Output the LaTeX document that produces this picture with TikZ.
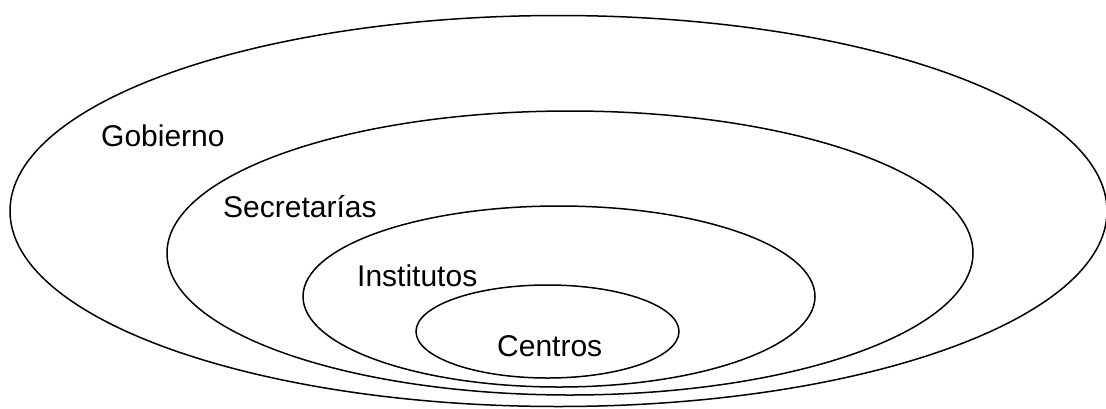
\documentclass[tikz,border=0pt]{standalone}
\usepackage{fontspec}
\setmainfont{Liberation Sans}
\begin{document}
\begin{tikzpicture}[x=1pt,y=-1pt,
  ring/.style={draw=black,line width=1.5pt},
  lbl/.style={anchor=base west,inner sep=0pt,font=\fontsize{30}{36}\selectfont}]
\useasboundingbox (0,0) rectangle (1106,408);
\draw[ring] (558.5,211) ellipse [x radius=548.5,y radius=195.5];
\draw[ring] (570,253) ellipse [x radius=403,y radius=142];
\draw[ring] (559,296.5) ellipse [x radius=256,y radius=90.5];
\draw[ring] (547.5,331.5) ellipse [x radius=131.5,y radius=46.5];
\node[lbl] (gob) at (101,146) {Gobierno};
\node[lbl] (sec) at (223,217) {Secretarías};
\node[lbl] (ins) at (357,286) {Institutos};
\node[lbl] (cen) at (497,356) {Centros};
\end{tikzpicture}
\end{document}
